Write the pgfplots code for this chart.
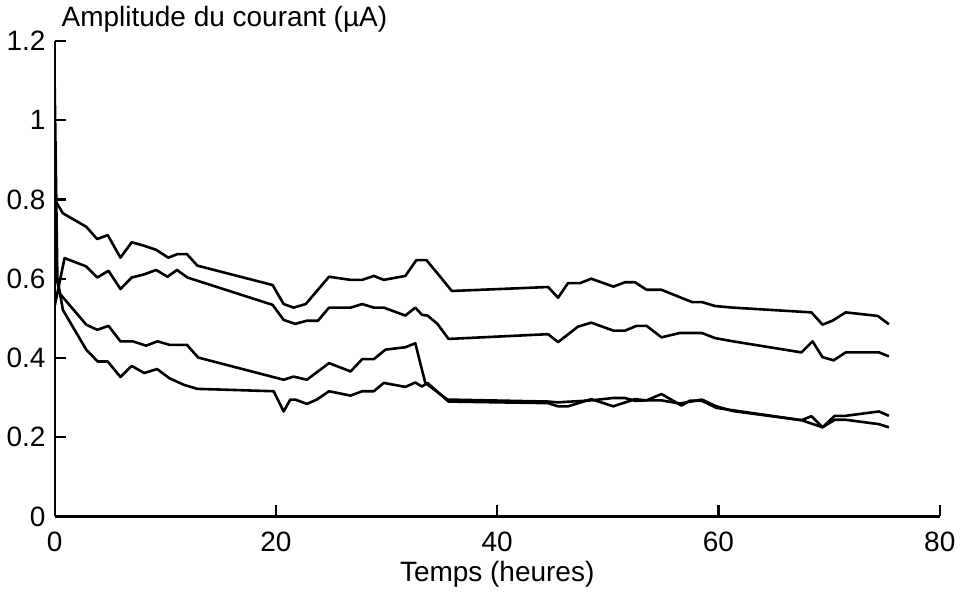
\documentclass[border=0pt]{standalone}
\usepackage{fontspec}
\setmainfont{Liberation Sans}
\usepackage{pgfplots}
\pgfplotsset{compat=1.18}
\pgfplotsset{curve/.style={black, line width=1.3pt, mark=none, line join=round}}
\begin{document}
\begin{tikzpicture}
\begin{axis}[
  scale only axis,
  width=443pt, height=238pt,
  xmin=0, xmax=80, ymin=0, ymax=1.2,
  axis x line*=bottom, axis y line*=left,
  axis line style={line width=1.1pt},
  xtick={0,20,40,60,80},
  ytick={0,0.2,0.4,0.6,0.8,1,1.2},
  xtick align=inside, ytick align=inside,
  major tick length=5.5pt,
  tick style={line width=1.1pt, black},
  font=\fontsize{14}{16}\selectfont,
  /pgf/number format/assume math mode=true,
  xticklabel style={yshift=-4pt},
  yticklabel style={xshift=-1pt},
  xlabel={Temps (heures)},
  xlabel style={yshift=2pt},
  ylabel={Amplitude du courant (µA)},
  every axis y label/.style={at={(rel axis cs:0,1)}, anchor=base west, yshift=7pt},
]
% curve 1 (top)
\addplot[curve] coordinates {
 (0,0.80)(0.75,0.765)(2.86,0.731)(3.85,0.700)(4.8,0.710)(5.95,0.653)(6.97,0.692)
 (8.1,0.683)(9.17,0.673)(10.28,0.653)(11.1,0.662)(11.96,0.662)(12.9,0.633)
 (19.7,0.584)(20.7,0.536)(21.6,0.527)(22.7,0.536)(24.8,0.605)(26.75,0.597)
 (27.8,0.597)(28.85,0.607)(29.75,0.597)(31.7,0.607)(32.7,0.647)(33.6,0.647)
 (34.7,0.61)(35.9,0.569)(44.6,0.579)(45.5,0.552)(46.4,0.589)(47.5,0.589)
 (48.5,0.600)(50.5,0.580)(51.55,0.591)(52.45,0.591)(53.5,0.572)(54.85,0.572)
 (57.6,0.541)(58.5,0.541)(59.7,0.531)(61.3,0.527)(68.4,0.515)(69.4,0.484)
 (70.3,0.494)(71.5,0.515)(74.4,0.506)(75.4,0.485)
};
% curve 2
\addplot[curve] coordinates {
 (0,0.53)(0.9,0.652)(2.86,0.631)(3.85,0.603)(4.87,0.620)(5.95,0.574)(6.97,0.603)
 (8.1,0.611)(9.17,0.622)(10.2,0.605)(11.06,0.622)(12.0,0.603)(19.7,0.534)
 (20.7,0.496)(21.75,0.486)(22.8,0.494)(23.8,0.494)(24.8,0.527)(26.75,0.527)
 (27.8,0.536)(28.85,0.527)(29.75,0.527)(31.7,0.507)(32.6,0.527)(33.2,0.509)
 (33.7,0.507)(34.6,0.486)(35.6,0.448)(44.6,0.460)(45.5,0.440)(47.3,0.479)
 (48.5,0.489)(50.5,0.469)(51.55,0.469)(52.6,0.481)(53.5,0.481)(54.85,0.452)
 (56.5,0.463)(58.5,0.463)(59.7,0.450)(61.3,0.442)(67.5,0.414)(68.5,0.442)
 (69.4,0.402)(70.4,0.394)(71.5,0.414)(74.5,0.414)(75.4,0.404)
};
% curve 3 (drops at 34 h)
\addplot[curve] coordinates {
 (0,0.63)(0.45,0.563)(2.86,0.484)(3.85,0.471)(4.87,0.481)(5.95,0.442)(7.06,0.442)
 (8.27,0.431)(9.3,0.442)(10.4,0.433)(11.96,0.433)(12.98,0.401)(20.7,0.345)
 (21.6,0.353)(22.8,0.345)(24.8,0.387)(26.75,0.366)(27.8,0.397)(28.85,0.397)
 (29.9,0.421)(31.7,0.427)(32.6,0.437)(33.5,0.337)(35.5,0.295)(44.6,0.290)
 (45.5,0.288)(48.5,0.293)(50.5,0.299)(51.55,0.299)(52.45,0.292)(53.5,0.293)
 (54.85,0.293)(56.5,0.285)(58.5,0.295)(59.8,0.278)(61.3,0.266)(67.5,0.243)
 (69.4,0.225)(70.5,0.244)(71.5,0.244)(74.5,0.233)(75.4,0.225)
};
% curve 4 (bottom)
\addplot[curve] coordinates {
 (0,1.10)(0.25,0.60)(0.75,0.521)(2.86,0.421)(3.9,0.391)(4.8,0.391)(5.95,0.352)
 (6.97,0.380)(8.1,0.362)(9.26,0.372)(10.37,0.349)(11.7,0.332)(12.9,0.322)
 (15.3,0.320)(19.8,0.316)(20.7,0.265)(21.3,0.295)(21.75,0.295)(22.8,0.284)
 (23.7,0.295)(24.8,0.316)(26.75,0.305)(27.8,0.316)(28.85,0.316)(29.75,0.337)
 (31.7,0.327)(32.6,0.338)(33.2,0.328)(33.7,0.337)(35.6,0.290)(44.6,0.286)
 (45.5,0.278)(46.4,0.278)(48.5,0.296)(50.5,0.278)(52.45,0.296)(53.5,0.293)
 (54.85,0.309)(56.65,0.280)(57.4,0.292)(58.5,0.292)(59.8,0.274)(61.3,0.268)
 (67.5,0.243)(68.4,0.253)(69.4,0.225)(70.5,0.254)(71.5,0.254)(74.5,0.265)
 (75.4,0.254)
};
\end{axis}
\end{tikzpicture}
\end{document}
